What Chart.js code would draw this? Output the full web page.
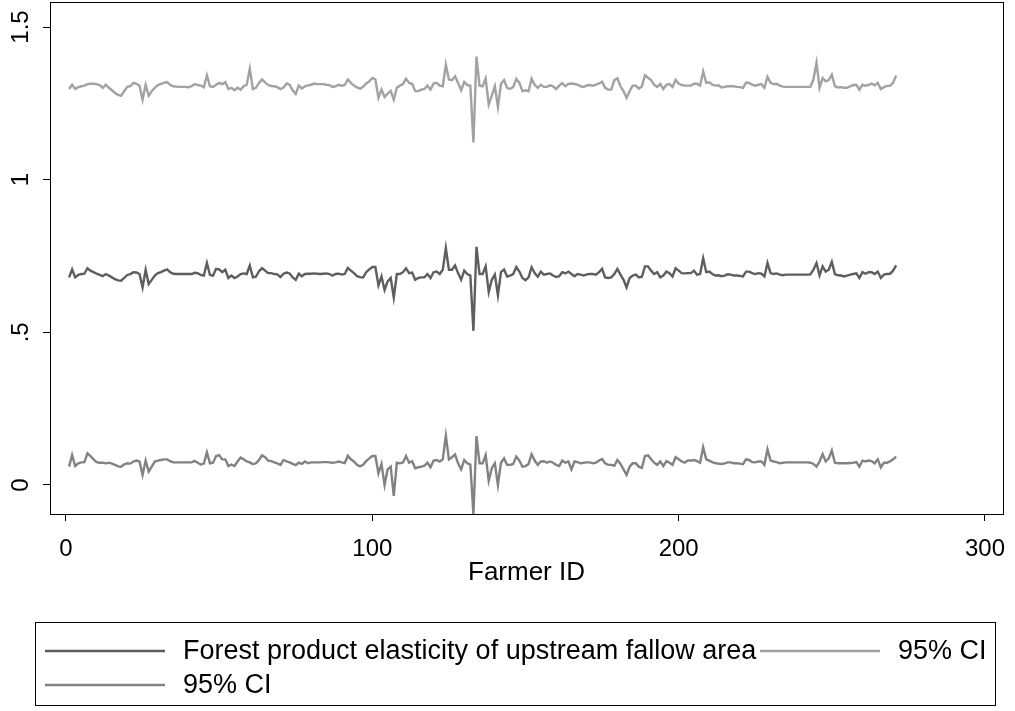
<!DOCTYPE html>
<html>
<head>
<meta charset="utf-8">
<script src="https://cdn.jsdelivr.net/npm/chart.js@4"></script>
<style>
  html, body { margin: 0; padding: 0; background: #fff; }
  canvas { display: block; }
</style>
</head>
<body>
<canvas id="elasticityChart" width="1015" height="711"></canvas>
<script>
// Point estimate per farmer, plus upper and lower 95% bounds
const elasticity = [
  0.680, 0.706, 0.680, 0.688, 0.691, 0.692, 0.710, 0.702, 0.697, 0.692,
  0.688, 0.684, 0.691, 0.686, 0.680, 0.674, 0.670, 0.669, 0.678, 0.688,
  0.691, 0.697, 0.696, 0.691, 0.647, 0.705, 0.658, 0.672, 0.686, 0.694,
  0.697, 0.702, 0.706, 0.697, 0.692, 0.691, 0.691, 0.691, 0.691, 0.691,
  0.691, 0.695, 0.694, 0.688, 0.686, 0.727, 0.688, 0.686, 0.708, 0.706,
  0.697, 0.705, 0.678, 0.686, 0.678, 0.683, 0.691, 0.693, 0.691, 0.719,
  0.680, 0.682, 0.700, 0.710, 0.702, 0.694, 0.694, 0.691, 0.690, 0.681,
  0.692, 0.696, 0.693, 0.680, 0.672, 0.692, 0.684, 0.691, 0.692, 0.692,
  0.693, 0.692, 0.691, 0.692, 0.693, 0.691, 0.686, 0.691, 0.692, 0.689,
  0.691, 0.711, 0.702, 0.694, 0.684, 0.681, 0.680, 0.697, 0.706, 0.714,
  0.714, 0.654, 0.683, 0.639, 0.667, 0.678, 0.614, 0.691, 0.691, 0.697,
  0.710, 0.694, 0.696, 0.672, 0.678, 0.680, 0.680, 0.691, 0.678, 0.697,
  0.699, 0.691, 0.705, 0.776, 0.705, 0.705, 0.719, 0.694, 0.672, 0.702,
  0.691, 0.686, 0.505, 0.780, 0.691, 0.691, 0.716, 0.632, 0.672, 0.689,
  0.621, 0.697, 0.706, 0.683, 0.686, 0.691, 0.714, 0.699, 0.678, 0.671,
  0.680, 0.713, 0.694, 0.682, 0.699, 0.689, 0.691, 0.693, 0.686, 0.681,
  0.684, 0.697, 0.693, 0.699, 0.691, 0.684, 0.691, 0.689, 0.686, 0.690,
  0.691, 0.691, 0.689, 0.697, 0.708, 0.680, 0.678, 0.680, 0.691, 0.708,
  0.689, 0.672, 0.647, 0.678, 0.686, 0.689, 0.680, 0.682, 0.716, 0.716,
  0.702, 0.691, 0.697, 0.680, 0.686, 0.699, 0.694, 0.683, 0.710, 0.702,
  0.694, 0.693, 0.694, 0.694, 0.702, 0.689, 0.691, 0.743, 0.697, 0.699,
  0.691, 0.686, 0.687, 0.684, 0.686, 0.690, 0.689, 0.686, 0.686, 0.685,
  0.683, 0.699, 0.699, 0.694, 0.691, 0.694, 0.692, 0.683, 0.727, 0.694,
  0.691, 0.693, 0.689, 0.687, 0.689, 0.689, 0.689, 0.689, 0.689, 0.689,
  0.689, 0.689, 0.690, 0.705, 0.727, 0.686, 0.716, 0.699, 0.705, 0.731,
  0.691, 0.687, 0.686, 0.683, 0.686, 0.689, 0.691, 0.693, 0.678, 0.697,
  0.692, 0.697, 0.697, 0.691, 0.699, 0.678, 0.689, 0.691, 0.692, 0.702,
  0.719
];

const ciUpper = [
  1.297, 1.311, 1.297, 1.303, 1.306, 1.308, 1.313, 1.314, 1.314, 1.313,
  1.310, 1.301, 1.311, 1.301, 1.293, 1.284, 1.278, 1.275, 1.290, 1.304,
  1.306, 1.317, 1.314, 1.308, 1.262, 1.311, 1.275, 1.290, 1.301, 1.310,
  1.314, 1.317, 1.320, 1.311, 1.306, 1.305, 1.304, 1.304, 1.304, 1.303,
  1.306, 1.313, 1.310, 1.308, 1.303, 1.342, 1.306, 1.304, 1.311, 1.317,
  1.313, 1.320, 1.297, 1.301, 1.293, 1.301, 1.295, 1.306, 1.311, 1.364,
  1.297, 1.301, 1.317, 1.328, 1.319, 1.310, 1.307, 1.306, 1.303, 1.297,
  1.302, 1.315, 1.311, 1.293, 1.281, 1.308, 1.299, 1.306, 1.309, 1.311,
  1.315, 1.313, 1.313, 1.313, 1.311, 1.310, 1.304, 1.306, 1.311, 1.308,
  1.310, 1.328, 1.317, 1.308, 1.302, 1.298, 1.304, 1.315, 1.322, 1.333,
  1.329, 1.268, 1.295, 1.271, 1.282, 1.291, 1.262, 1.301, 1.308, 1.313,
  1.331, 1.317, 1.314, 1.290, 1.290, 1.295, 1.297, 1.308, 1.295, 1.315,
  1.317, 1.308, 1.306, 1.377, 1.328, 1.326, 1.339, 1.317, 1.293, 1.320,
  1.310, 1.308, 1.122, 1.403, 1.308, 1.306, 1.331, 1.246, 1.275, 1.306,
  1.238, 1.314, 1.326, 1.301, 1.297, 1.304, 1.330, 1.317, 1.290, 1.293,
  1.290, 1.331, 1.311, 1.301, 1.311, 1.304, 1.304, 1.309, 1.306, 1.297,
  1.308, 1.316, 1.306, 1.314, 1.315, 1.314, 1.311, 1.306, 1.304, 1.309,
  1.310, 1.308, 1.311, 1.315, 1.321, 1.301, 1.295, 1.295, 1.326, 1.332,
  1.306, 1.290, 1.268, 1.290, 1.308, 1.308, 1.298, 1.306, 1.342, 1.334,
  1.326, 1.311, 1.304, 1.314, 1.297, 1.311, 1.313, 1.304, 1.327, 1.315,
  1.310, 1.308, 1.308, 1.308, 1.314, 1.314, 1.308, 1.355, 1.317, 1.319,
  1.311, 1.308, 1.309, 1.302, 1.304, 1.306, 1.306, 1.306, 1.304, 1.303,
  1.301, 1.318, 1.317, 1.311, 1.308, 1.311, 1.313, 1.301, 1.337, 1.317,
  1.313, 1.314, 1.308, 1.305, 1.304, 1.304, 1.304, 1.304, 1.304, 1.304,
  1.304, 1.304, 1.304, 1.328, 1.383, 1.301, 1.333, 1.322, 1.326, 1.344,
  1.306, 1.302, 1.303, 1.301, 1.301, 1.306, 1.310, 1.311, 1.295, 1.311,
  1.308, 1.310, 1.315, 1.309, 1.317, 1.297, 1.303, 1.307, 1.308, 1.317,
  1.341
];

const ciLower = [
  0.060, 0.098, 0.062, 0.071, 0.074, 0.075, 0.104, 0.095, 0.084, 0.075,
  0.073, 0.073, 0.071, 0.073, 0.070, 0.066, 0.061, 0.060, 0.068, 0.071,
  0.070, 0.077, 0.080, 0.077, 0.033, 0.080, 0.044, 0.060, 0.077, 0.080,
  0.082, 0.084, 0.084, 0.078, 0.074, 0.074, 0.074, 0.074, 0.074, 0.074,
  0.074, 0.079, 0.073, 0.067, 0.070, 0.107, 0.071, 0.073, 0.095, 0.098,
  0.084, 0.084, 0.062, 0.067, 0.062, 0.077, 0.090, 0.084, 0.077, 0.074,
  0.068, 0.071, 0.082, 0.097, 0.091, 0.080, 0.078, 0.074, 0.071, 0.066,
  0.082, 0.077, 0.074, 0.069, 0.065, 0.073, 0.069, 0.077, 0.071, 0.074,
  0.074, 0.074, 0.074, 0.075, 0.075, 0.074, 0.073, 0.074, 0.077, 0.074,
  0.072, 0.096, 0.084, 0.077, 0.066, 0.061, 0.066, 0.078, 0.087, 0.095,
  0.095, 0.038, 0.069, 0.000, 0.051, 0.060, -0.036, 0.073, 0.071, 0.074,
  0.095, 0.073, 0.078, 0.055, 0.058, 0.060, 0.063, 0.073, 0.058, 0.080,
  0.082, 0.077, 0.084, 0.161, 0.084, 0.091, 0.100, 0.071, 0.051, 0.082,
  0.071, 0.067, -0.095, 0.160, 0.071, 0.071, 0.098, 0.014, 0.055, 0.071,
  0.000, 0.073, 0.087, 0.066, 0.066, 0.069, 0.093, 0.080, 0.060, 0.062,
  0.069, 0.101, 0.080, 0.066, 0.077, 0.078, 0.073, 0.077, 0.073, 0.066,
  0.062, 0.080, 0.073, 0.077, 0.051, 0.077, 0.075, 0.071, 0.073, 0.074,
  0.074, 0.071, 0.073, 0.080, 0.085, 0.071, 0.066, 0.066, 0.063, 0.082,
  0.069, 0.051, 0.033, 0.060, 0.071, 0.071, 0.060, 0.056, 0.095, 0.097,
  0.084, 0.073, 0.066, 0.077, 0.062, 0.078, 0.073, 0.066, 0.091, 0.084,
  0.077, 0.073, 0.080, 0.080, 0.082, 0.078, 0.073, 0.124, 0.084, 0.080,
  0.075, 0.071, 0.070, 0.069, 0.071, 0.074, 0.074, 0.071, 0.071, 0.070,
  0.068, 0.084, 0.082, 0.075, 0.074, 0.077, 0.077, 0.066, 0.117, 0.080,
  0.077, 0.075, 0.071, 0.073, 0.074, 0.074, 0.074, 0.074, 0.074, 0.074,
  0.074, 0.074, 0.073, 0.069, 0.060, 0.077, 0.101, 0.077, 0.087, 0.113,
  0.073, 0.071, 0.071, 0.071, 0.071, 0.072, 0.073, 0.075, 0.060, 0.080,
  0.077, 0.080, 0.078, 0.071, 0.084, 0.058, 0.073, 0.073, 0.077, 0.084,
  0.093
];

// farmers are numbered 1..n in the order above
const farmerIds = elasticity.map((_, i) => i + 1);

const xTicks = [0, 100, 200, 300];
const yTicks = [0, 0.5, 1, 1.5];
const yTickLabels = ["0", ".5", "1", "1.5"];

const seriesLabels = [
  "Forest product elasticity of upstream fallow area",
  "95% CI",
  "95% CI"
];

const FONT_FAMILY = '"Liberation Sans", Arial, Helvetica, sans-serif';
const TICK_SIZE = 24;
const TITLE_SIZE = 26;
const LEGEND_SIZE = 27;

const toPoints = vals => vals.map((v, i) => ({ x: farmerIds[i], y: v }));

function lineSet(label, vals, color) {
  return {
    label,
    data: toPoints(vals),
    borderColor: color,
    backgroundColor: color,
    borderWidth: 2.4,
    pointRadius: 0,
    tension: 0,
    fill: false
  };
}

// box around the plot region, rotated y labels and the two-column legend
const stataFrame = {
  id: "stataFrame",
  afterDraw(chart) {
    const { ctx, chartArea: a, scales } = chart;
    ctx.save();
    ctx.strokeStyle = "#000";
    ctx.lineWidth = 1;
    ctx.strokeRect(Math.round(a.left) + 0.5, Math.round(a.top) + 0.5,
      Math.round(a.right - a.left), Math.round(a.bottom - a.top));

    ctx.fillStyle = "#000";
    ctx.font = TICK_SIZE + "px " + FONT_FAMILY;
    ctx.textAlign = "center";
    ctx.textBaseline = "middle";
    yTicks.forEach((v, i) => {
      const py = scales.y.getPixelForValue(v);
      ctx.save();
      ctx.translate(21, py);
      ctx.rotate(-Math.PI / 2);
      ctx.fillText(yTickLabels[i], 0, 0);
      ctx.restore();
    });

    // legend
    ctx.strokeRect(35.5, 622.5, 960, 83);
    const slots = [
      { x: 45, y: 651 },
      { x: 760, y: 651 },
      { x: 45, y: 685 }
    ];
    ctx.font = LEGEND_SIZE + "px " + FONT_FAMILY;
    ctx.textAlign = "left";
    chart.data.datasets.forEach((ds, i) => {
      const s = slots[i];
      ctx.strokeStyle = ds.borderColor;
      ctx.lineWidth = ds.borderWidth;
      ctx.beginPath();
      ctx.moveTo(s.x, s.y);
      ctx.lineTo(s.x + 120, s.y);
      ctx.stroke();
      ctx.fillStyle = "#000";
      ctx.fillText(ds.label, s.x + 138, s.y + 1);
    });
    ctx.restore();
  }
};

new Chart(document.getElementById("elasticityChart"), {
  type: "line",
  data: {
    datasets: [
      lineSet(seriesLabels[0], elasticity, "#5e5e5e"),
      lineSet(seriesLabels[1], ciUpper, "#a2a2a2"),
      lineSet(seriesLabels[2], ciLower, "#828282")
    ]
  },
  options: {
    responsive: false,
    animation: false,
    events: [],
    layout: { padding: { left: 0, right: 12, top: 2, bottom: 121 } },
    plugins: {
      legend: { display: false },
      tooltip: { enabled: false }
    },
    scales: {
      x: {
        type: "linear",
        min: -5.22,
        max: 305.88,
        afterBuildTicks: s => { s.ticks = xTicks.map(v => ({ value: v })); },
        afterFit: s => {
          s.height = 76;
          s.paddingLeft = 0;
          s.paddingRight = 0;
        },
        border: { display: false },
        grid: {
          drawOnChartArea: false,
          drawTicks: true,
          tickLength: 7,
          tickColor: "#000",
          color: "#000"
        },
        ticks: {
          color: "#000",
          padding: 14,
          maxRotation: 0,
          font: { family: FONT_FAMILY, size: TICK_SIZE }
        },
        title: {
          display: true,
          text: "Farmer ID",
          color: "#000",
          padding: { top: 0, bottom: 2 },
          font: { family: FONT_FAMILY, size: TITLE_SIZE }
        }
      },
      y: {
        type: "linear",
        min: -0.095,
        max: 1.582,
        afterBuildTicks: s => { s.ticks = yTicks.map(v => ({ value: v })); },
        afterFit: s => {
          s.width = 50;
          s.paddingTop = 0;
          s.paddingBottom = 0;
        },
        border: { display: false },
        grid: {
          drawOnChartArea: false,
          drawTicks: true,
          tickLength: 7,
          tickColor: "#000",
          color: "#000"
        },
        ticks: { display: false }
      }
    }
  },
  plugins: [stataFrame]
});
</script>
</body>
</html>
